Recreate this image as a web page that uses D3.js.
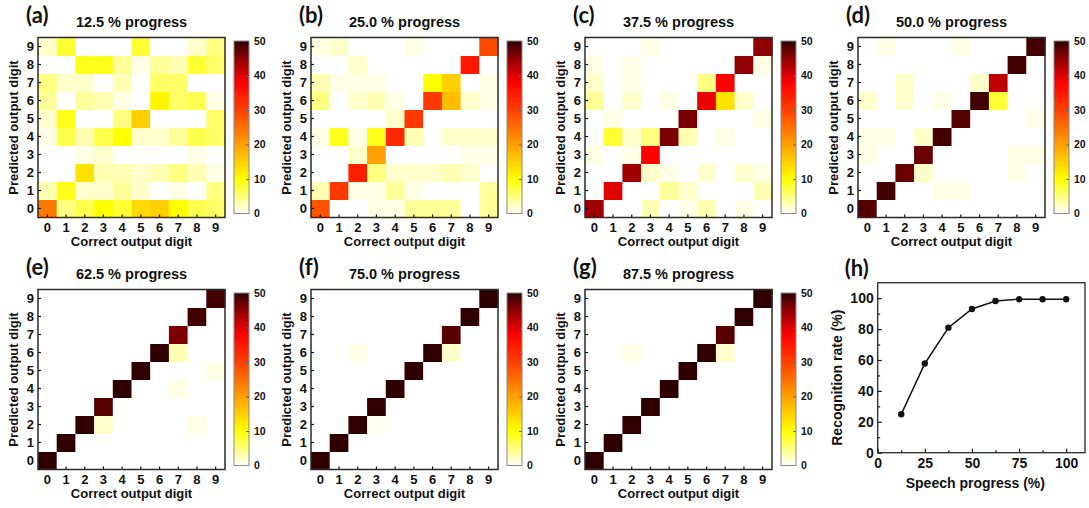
<!DOCTYPE html>
<html>
<head>
<meta charset="utf-8">
<script src="https://cdn.jsdelivr.net/npm/d3@7"></script>
<style>
  body { margin: 0; background: #ffffff; }
  svg { display: block; font-family: "Liberation Sans", Arial, sans-serif; }
</style>
</head>
<body>
<svg id="fig" width="1089" height="508"></svg>
<script>
// ---- Data -------------------------------------------------------------
const digits = [0, 1, 2, 3, 4, 5, 6, 7, 8, 9];
const colorbarTicks = [0, 10, 20, 30, 40, 50];
const panelLetters = ["(a)", "(b)", "(c)", "(d)", "(e)", "(f)", "(g)", "(h)"];
const panelTitles = ["12.5 % progress", "25.0 % progress", "37.5 % progress", "50.0 % progress",
                     "62.5 % progress", "75.0 % progress", "87.5 % progress"];

// Confusion matrices: one row per predicted digit (0..9), one column per correct digit (0..9)
const matrix125 = [
  [24, 5, 7, 10, 8, 14, 15, 10, 7, 6],
  [3, 9, 2, 2, 4, 2, 0, 1, 0, 5],
  [0, 0, 13, 3, 3, 2, 3, 5, 3, 1],
  [0, 0, 1, 2, 0, 0, 0, 0, 1, 0],
  [1, 7, 3, 7, 10, 2, 2, 4, 7, 6],
  [2, 9, 0, 0, 5, 15, 0, 0, 0, 6],
  [4, 0, 4, 3, 1, 0, 11, 6, 7, 1],
  [5, 2, 2, 0, 3, 0, 6, 6, 0, 0],
  [0, 0, 9, 9, 4, 1, 4, 3, 8, 6],
  [2, 8, 0, 0, 0, 8, 0, 0, 2, 5]
];
const matrix250 = [
  [28, 0, 0, 1, 1, 4, 4, 4, 0, 4],
  [3, 31, 1, 1, 4, 1, 0, 0, 0, 4],
  [0, 0, 34, 5, 2, 2, 2, 3, 2, 0],
  [0, 0, 2, 20, 0, 0, 0, 0, 1, 1],
  [1, 9, 1, 9, 33, 3, 0, 2, 2, 2],
  [0, 0, 0, 0, 2, 31, 0, 0, 0, 0],
  [5, 0, 2, 3, 1, 0, 31, 17, 2, 1],
  [3, 1, 1, 1, 0, 0, 10, 15, 0, 1],
  [0, 0, 2, 0, 0, 0, 0, 0, 35, 0],
  [1, 2, 0, 0, 0, 1, 0, 0, 0, 29]
];
const matrix375 = [
  [44, 0, 0, 3, 0, 1, 3, 0, 1, 0],
  [0, 40, 0, 0, 4, 2, 0, 0, 0, 3],
  [0, 0, 44, 2, 1, 0, 2, 0, 2, 1],
  [1, 0, 1, 38, 0, 0, 0, 0, 0, 0],
  [0, 8, 2, 5, 46, 3, 0, 1, 0, 0],
  [0, 1, 0, 0, 0, 46, 0, 0, 0, 1],
  [4, 0, 2, 0, 1, 0, 39, 13, 2, 0],
  [2, 0, 1, 0, 0, 0, 5, 38, 0, 0],
  [1, 0, 1, 0, 0, 0, 0, 0, 45, 1],
  [0, 0, 0, 1, 0, 0, 0, 0, 0, 45]
];
const matrix500 = [
  [48, 0, 0, 0, 0, 0, 0, 0, 0, 0],
  [0, 49, 0, 0, 1, 1, 0, 0, 0, 0],
  [0, 0, 47, 2, 0, 0, 0, 0, 1, 0],
  [1, 0, 0, 47, 0, 0, 0, 0, 1, 1],
  [1, 1, 0, 2, 49, 0, 0, 0, 0, 0],
  [0, 0, 0, 0, 0, 48, 0, 0, 0, 1],
  [2, 0, 2, 0, 1, 0, 49, 8, 0, 0],
  [0, 0, 2, 0, 0, 0, 2, 42, 0, 0],
  [0, 0, 0, 0, 0, 0, 0, 0, 49, 0],
  [0, 1, 0, 0, 0, 1, 0, 0, 0, 49]
];
const matrix625 = [
  [50, 0, 0, 0, 0, 0, 0, 0, 0, 0],
  [0, 50, 0, 0, 0, 0, 0, 0, 0, 0],
  [0, 0, 50, 2, 0, 0, 0, 0, 1, 0],
  [0, 0, 0, 48, 0, 0, 0, 0, 0, 0],
  [0, 0, 0, 0, 50, 0, 0, 1, 0, 0],
  [0, 0, 0, 0, 0, 50, 0, 0, 0, 1],
  [0, 0, 0, 0, 0, 0, 50, 3, 0, 0],
  [0, 0, 0, 0, 0, 0, 0, 46, 0, 0],
  [0, 0, 0, 0, 0, 0, 0, 0, 49, 0],
  [0, 0, 0, 0, 0, 0, 0, 0, 0, 49]
];
const matrix750 = [
  [50, 0, 0, 0, 0, 0, 0, 0, 0, 0],
  [0, 50, 0, 0, 0, 0, 0, 0, 0, 0],
  [0, 0, 50, 0.5, 0, 0, 0, 0, 0, 0],
  [0, 0, 0, 50, 0, 0, 0, 0, 0, 0],
  [0, 0, 0, 0, 50, 0, 0, 0, 0, 0],
  [0, 0, 0, 0, 0, 50, 0, 0, 0, 0],
  [0, 0, 1, 0, 0, 0, 50, 2, 0, 0],
  [0, 0, 0, 0, 0, 0, 0, 48, 0, 0],
  [0, 0, 0, 0, 0, 0, 0, 0, 50, 0],
  [0, 0, 0, 0, 0, 0, 0, 0, 0, 50]
];
const matrix875 = [
  [50, 0, 0, 0, 0, 0, 0, 0, 0, 0],
  [0, 50, 0, 0, 0, 0, 0, 0, 0, 0],
  [0, 0, 50, 0, 0, 0, 0, 0, 0, 0],
  [0, 0, 0, 50, 0, 0, 0, 0, 0, 0],
  [0, 0, 0, 0, 50, 0, 0, 0, 0, 0],
  [0, 0, 0, 0, 0, 50, 0, 0, 0, 0],
  [0, 0, 1, 0, 0, 0, 50, 2, 0, 0],
  [0, 0, 0, 0, 0, 0, 0, 48, 0, 0],
  [0, 0, 0, 0, 0, 0, 0, 0, 50, 0],
  [0, 0, 0, 0, 0, 0, 0, 0, 0, 50]
];
const matrices = [matrix125, matrix250, matrix375, matrix500, matrix625, matrix750, matrix875];

// Recognition rate versus speech progress
const speechProgress = [12.5, 25, 37.5, 50, 62.5, 75, 87.5, 100];
const recognitionRate = [24.9, 57.7, 80.9, 93.0, 98.2, 99.3, 99.3, 99.3];
const progressTicks = [0, 25, 50, 75, 100];
const progressMinorTicks = [12.5, 37.5, 62.5, 87.5];
const rateTicks = [0, 20, 40, 60, 80, 100];
const rateMinorTicks = [10, 30, 50, 70, 90];

// ---- Colour map (white -> yellow -> orange -> red -> dark brown) --------
const color = d3.scaleLinear()
  .domain([0, 10, 20, 30, 38, 45, 50])
  .range(["#ffffff", "#ffff00", "#ffa000", "#ff4000", "#ff0000", "#900000", "#300000"])
  .clamp(true);

// ---- Layout -----------------------------------------------------------
const svg = d3.select("#fig");
const W = 187, H = 180;
const colLeft = [38, 311, 585, 858];
const rowTop = [37.5, 289.5];
const ink = "#111";
const letterFont = "Lato, 'Open Sans', sans-serif";

const defs = svg.append("defs");
const grad = defs.append("linearGradient")
  .attr("id", "cbar").attr("x1", 0).attr("y1", 1).attr("x2", 0).attr("y2", 0);
d3.range(0, 51, 1).forEach(v => {
  grad.append("stop").attr("offset", v / 50).attr("stop-color", color(v));
});

function styleAxis(g, size) {
  g.select(".domain").remove();
  g.selectAll(".tick line").attr("stroke", ink).attr("stroke-width", 1.2);
  g.selectAll(".tick text")
    .attr("fill", ink)
    .attr("font-size", size)
    .attr("font-weight", "bold")
    .attr("font-family", "'Liberation Sans', Arial, sans-serif");
}

matrices.forEach((m, i) => {
  const left = colLeft[i % 4];
  const top = rowTop[Math.floor(i / 4)];
  const g = svg.append("g").attr("transform", `translate(${left},${top})`);

  const x = d3.scaleBand().domain(digits).range([0, W]);
  const y = d3.scaleBand().domain(digits).range([H, 0]);

  const cells = [];
  m.forEach((row, pred) => row.forEach((v, corr) => cells.push({ pred, corr, v })));

  g.selectAll("rect.cell").data(cells).join("rect")
    .attr("class", "cell")
    .attr("x", d => x(d.corr))
    .attr("y", d => y(d.pred))
    .attr("width", x.bandwidth() + 0.5)
    .attr("height", y.bandwidth() + 0.5)
    .attr("fill", d => color(d.v));

  const gx = g.append("g").attr("transform", `translate(0,${H})`)
    .call(d3.axisBottom(x).tickSizeInner(-3).tickSizeOuter(0).tickPadding(5));
  styleAxis(gx, 13);
  const gy = g.append("g")
    .call(d3.axisLeft(y).tickSizeInner(-3).tickSizeOuter(0).tickPadding(4));
  styleAxis(gy, 13);

  g.append("rect").attr("width", W).attr("height", H)
    .attr("fill", "none").attr("stroke", "#2a2a2a").attr("stroke-width", 1.5);

  // titles
  g.append("text").attr("x", -12).attr("y", -15)
    .attr("font-family", letterFont).attr("font-weight", 700)
    .attr("font-size", 22).attr("fill", ink).text(panelLetters[i]);
  g.append("text").attr("x", W / 2).attr("y", -10.5).attr("text-anchor", "middle")
    .attr("font-weight", "bold").attr("font-size", 14.5).attr("fill", ink)
    .text(panelTitles[i]);
  g.append("text").attr("x", W / 2).attr("y", H + 28).attr("text-anchor", "middle")
    .attr("font-weight", "bold").attr("font-size", 13).attr("fill", ink)
    .text("Correct output digit");
  g.append("text")
    .attr("transform", `translate(-20.5,${H / 2}) rotate(-90)`)
    .attr("text-anchor", "middle")
    .attr("font-weight", "bold").attr("font-size", 13).attr("fill", ink)
    .text("Predicted output digit");

  // colour bar
  const cbX = W + 9, cbW = 15, cbTop = 3.5, cbBot = H - 4;
  const cs = d3.scaleLinear().domain([0, 50]).range([cbBot, cbTop]);
  g.append("rect").attr("x", cbX).attr("y", cbTop)
    .attr("width", cbW).attr("height", cbBot - cbTop)
    .attr("fill", "url(#cbar)").attr("stroke", "#888").attr("stroke-width", 1);
  const gc = g.append("g").attr("transform", `translate(${cbX + cbW},0)`)
    .call(d3.axisRight(cs).tickValues(colorbarTicks).tickSizeInner(-3).tickSizeOuter(0).tickPadding(5));
  gc.select(".domain").remove();
  gc.selectAll(".tick line").attr("stroke", "#666").attr("stroke-width", 1)
    .filter(d => d === 0 || d === 50).remove();
  gc.selectAll(".tick text").attr("fill", ink).attr("font-size", 10.5)
    .attr("font-weight", "bold").attr("font-family", "'Liberation Sans', Arial, sans-serif");
});

// ---- (h) recognition rate line chart ----------------------------------
{
  const left = 877.7, top = 282.7, w = 207.3, h = 170;
  const g = svg.append("g").attr("transform", `translate(${left},${top})`);
  const x = d3.scaleLinear().domain([0, 110]).range([0, w]);
  const y = d3.scaleLinear().domain([0, 110]).range([h, 0]);

  const gx = g.append("g").attr("transform", `translate(0,${h})`)
    .call(d3.axisBottom(x).tickValues(progressTicks).tickSizeInner(-4).tickSizeOuter(0).tickPadding(5));
  styleAxis(gx, 14);
  const gxm = g.append("g").attr("transform", `translate(0,${h})`)
    .call(d3.axisBottom(x).tickValues(progressMinorTicks).tickSizeInner(-2.5).tickSizeOuter(0).tickFormat(""));
  styleAxis(gxm, 14);
  const gy = g.append("g")
    .call(d3.axisLeft(y).tickValues(rateTicks).tickSizeInner(-4).tickSizeOuter(0).tickPadding(4));
  styleAxis(gy, 14);
  const gym = g.append("g")
    .call(d3.axisLeft(y).tickValues(rateMinorTicks).tickSizeInner(-2.5).tickSizeOuter(0).tickFormat(""));
  styleAxis(gym, 14);

  g.append("rect").attr("width", w).attr("height", h)
    .attr("fill", "none").attr("stroke", "#2a2a2a").attr("stroke-width", 1.3);

  const pts = speechProgress.map((p, k) => [p, recognitionRate[k]]);
  g.append("path").datum(pts)
    .attr("fill", "none").attr("stroke", ink).attr("stroke-width", 1.6)
    .attr("d", d3.line().x(d => x(d[0])).y(d => y(d[1])));
  g.selectAll("circle").data(pts).join("circle")
    .attr("cx", d => x(d[0])).attr("cy", d => y(d[1])).attr("r", 3.2)
    .attr("fill", ink);

  g.append("text").attr("x", -33).attr("y", -6.5)
    .attr("font-family", letterFont).attr("font-weight", 700)
    .attr("font-size", 22).attr("fill", ink).text(panelLetters[7]);
  g.append("text").attr("x", w / 2 - 6).attr("y", h + 35.5).attr("text-anchor", "middle")
    .attr("font-weight", "bold").attr("font-size", 14).attr("fill", ink)
    .text("Speech progress (%)");
  g.append("text")
    .attr("transform", `translate(-36,${h / 2 + 10}) rotate(-90)`)
    .attr("text-anchor", "middle")
    .attr("font-weight", "bold").attr("font-size", 14).attr("fill", ink)
    .text("Recognition rate (%)");
}
</script>
</body>
</html>
